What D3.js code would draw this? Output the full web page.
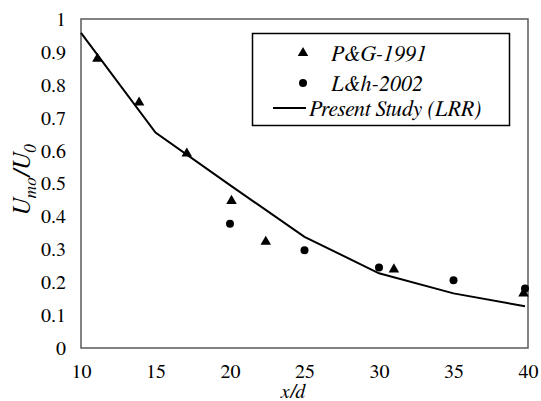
<!DOCTYPE html>
<html>
<head>
<meta charset="UTF-8">
<script src="https://cdn.jsdelivr.net/npm/d3@7"></script>
<style>
  body { margin: 0; background: #fff; }
</style>
</head>
<body>
<div id="root"></div>
<script>
// data
let lrrX = [10, 15, 20, 25, 30, 35, 39.8]
let lrrY = [0.958, 0.655, 0.495, 0.338, 0.227, 0.166, 0.127]
let pgX = [11.1, 13.9, 17.1, 20.1, 22.4, 31, 39.7]
let pgY = [0.879, 0.746, 0.591, 0.447, 0.323, 0.239, 0.166]
let lhX = [20, 25, 30, 35, 39.8]
let lhY = [0.378, 0.297, 0.245, 0.206, 0.181]
let xTicks = [10, 15, 20, 25, 30, 35, 40]
let yTicks = [0, 0.1, 0.2, 0.3, 0.4, 0.5, 0.6, 0.7, 0.8, 0.9, 1]

let width = 541, height = 401
let padL = 81, padR = 528, padT = 19, padB = 348
let serif = "FreeSerif, 'Times New Roman', serif"

let svg = d3.select("#root").append("svg").attr("width", width).attr("height", height)
  .style("font-family", serif)

let x = d3.scaleLinear().domain([10, 40]).range([padL, padR])
let y = d3.scaleLinear().domain([0, 1]).range([padB, padT])

// plot frame
svg.append("rect").attr("x", padL).attr("y", padT)
  .attr("width", padR - padL).attr("height", padB - padT)
  .attr("fill", "none").attr("stroke", "#595959").attr("stroke-width", 1.5)

let xAxis = d3.axisBottom(x).tickValues(xTicks).tickSize(0).tickPadding(16).tickFormat(d3.format("d"))
svg.append("g").attr("transform", "translate(0," + padB + ")").call(xAxis)
  .attr("font-family", null).attr("font-size", null)
  .call(g => g.select(".domain").remove())
  .selectAll("text").style("font-size", "20px").style("font-family", serif)

let yAxis = d3.axisLeft(y).tickValues(yTicks).tickSize(0).tickPadding(15).tickFormat(d => d === 0 || d === 1 ? d : d3.format(".1f")(d))
svg.append("g").attr("transform", "translate(" + padL + ",0)").call(yAxis)
  .attr("font-family", null).attr("font-size", null)
  .call(g => g.select(".domain").remove())
  .selectAll("text").style("font-size", "20px").style("font-family", serif)

// axis titles
svg.append("text").attr("x", 293).attr("y", 398)
  .attr("text-anchor", "middle").style("font-size", "20px").style("font-style", "italic")
  .style("font-family", serif).text("x/d")

let yt = svg.append("text").attr("transform", "translate(30,180) rotate(-90)")
  .attr("text-anchor", "middle").style("font-size", "25px").style("font-style", "italic")
  .style("font-family", serif)
yt.append("tspan").text("U")
yt.append("tspan").attr("dy", 6).style("font-size", "17px").text("mo")
yt.append("tspan").attr("dy", -6).text("/U")
yt.append("tspan").attr("dy", 6).style("font-size", "17px").text("0")

// line series
let line = d3.line().x(d => x(d[0])).y(d => y(d[1]))
svg.append("path").datum(d3.zip(lrrX, lrrY)).attr("d", line)
  .attr("fill", "none").attr("stroke", "#000").attr("stroke-width", 2)

let tri = d3.symbol().type(d3.symbolTriangle).size(48)
svg.selectAll(".pg").data(d3.zip(pgX, pgY)).join("path").attr("class", "pg")
  .attr("d", tri).attr("transform", d => "translate(" + x(d[0]) + "," + y(d[1]) + ")")
  .attr("fill", "#000")

svg.selectAll(".lh").data(d3.zip(lhX, lhY)).join("circle").attr("class", "lh")
  .attr("cx", d => x(d[0])).attr("cy", d => y(d[1])).attr("r", 4).attr("fill", "#000")

// legend
let lg = svg.append("g")
lg.append("rect").attr("x", 252.5).attr("y", 33.5).attr("width", 257).attr("height", 92)
  .attr("fill", "#fff").attr("stroke", "#000").attr("stroke-width", 1.5)
lg.append("path").attr("d", tri).attr("transform", "translate(303,53)").attr("fill", "#000")
lg.append("circle").attr("cx", 303).attr("cy", 83).attr("r", 4).attr("fill", "#000")
lg.append("line").attr("x1", 273).attr("x2", 306).attr("y1", 108).attr("y2", 108)
  .attr("stroke", "#000").attr("stroke-width", 2)
let names = ["P&G-1991", "L&h-2002", "Present Study (LRR)"]
let ly = [53, 83, 108]
let lx = [331, 331, 309]
names.forEach((n, i) => {
  lg.append("text").attr("x", lx[i]).attr("y", ly[i]).attr("dy", "0.35em")
    .style("font-size", "22px").style("font-style", "italic").style("font-family", serif).text(n)
})
</script>
</body>
</html>
